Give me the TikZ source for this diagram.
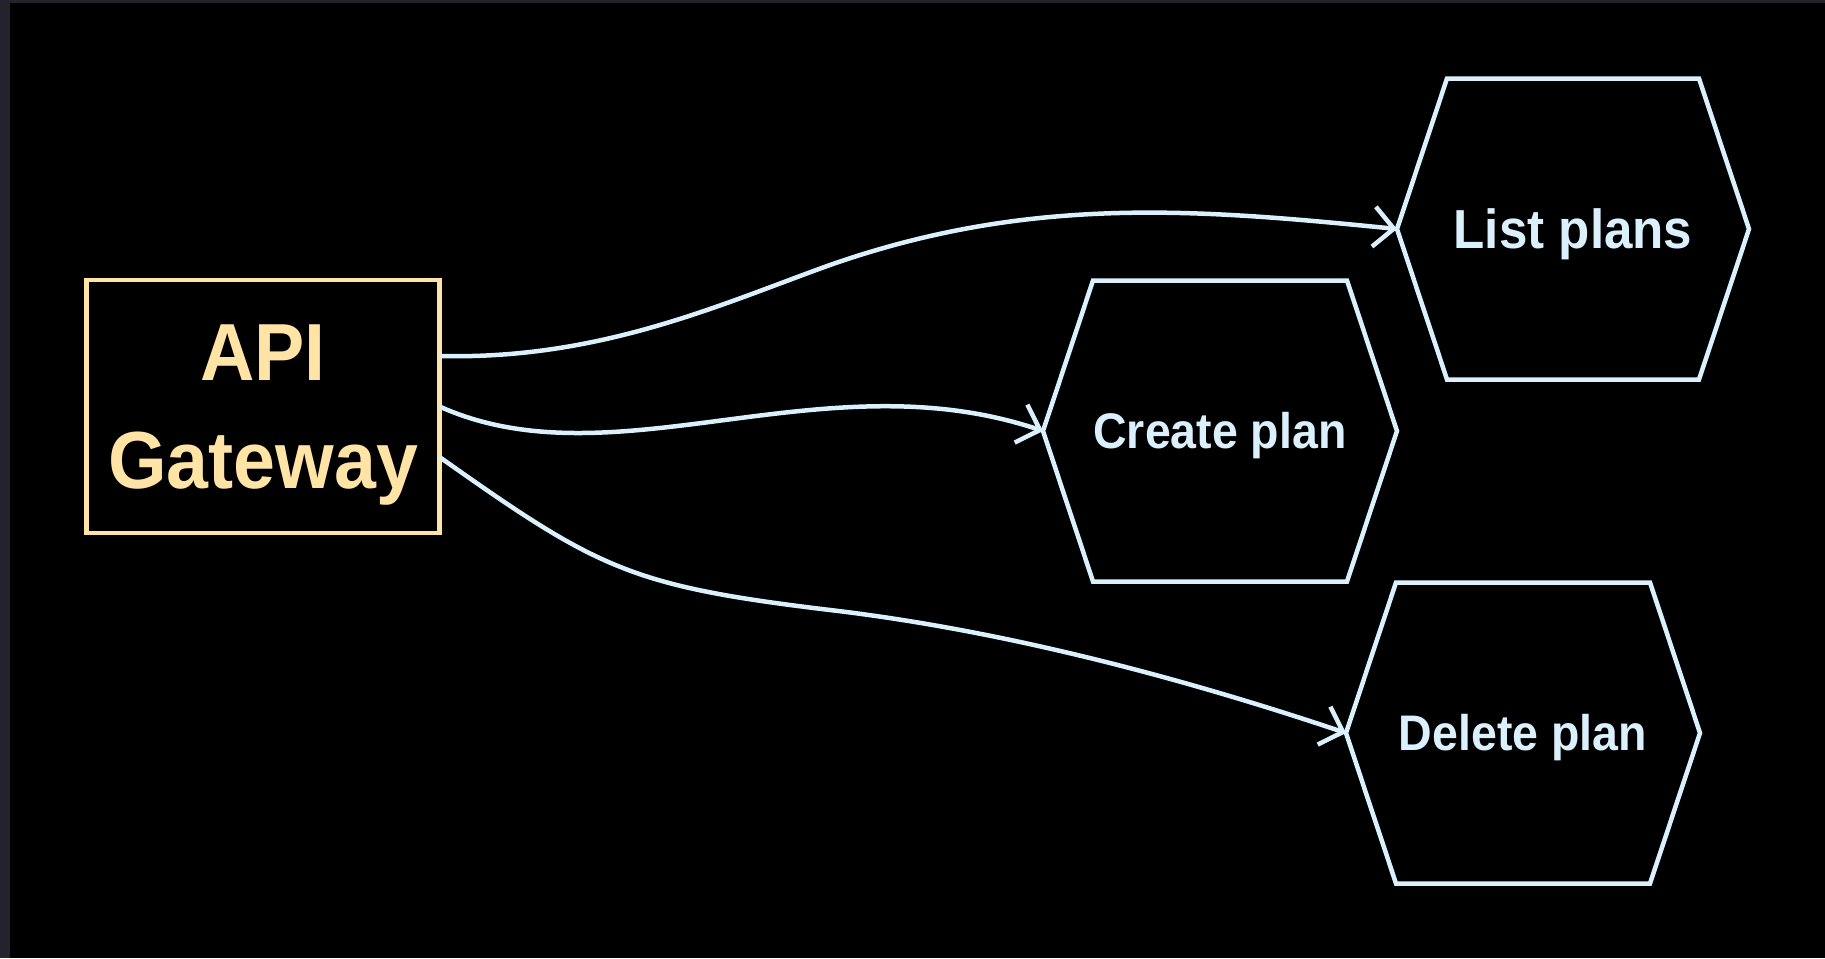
\documentclass[tikz,border=0pt]{standalone}
\usepackage{fontspec}
\setmainfont{Liberation Sans}
\newfontfamily\labelfont[FakeStretch=0.93]{Liberation Sans}
\usetikzlibrary{arrows.meta}

\definecolor{framegrey}{HTML}{24232D}
\definecolor{gatewaytan}{RGB}{255,228,166}
\definecolor{servicefrost}{RGB}{218,240,252}

\begin{document}
\begin{tikzpicture}[x=1pt,y=-1pt,
  gatewaybox/.style={draw=gatewaytan, line width=4.5pt, text=gatewaytan,
    minimum width=353pt, minimum height=253pt, inner sep=0pt, outer sep=0pt,
    align=center, text depth=0pt,
    font=\labelfont\bfseries\fontsize{81}{108}\selectfont},
  servicehex/.style={minimum width=354pt, minimum height=301pt,
    inner sep=0pt, outer sep=0pt, text=servicefrost, text depth=0pt},
  hexline/.style={draw=servicefrost, line width=4.5pt},
  callarrow/.style={draw=servicefrost, line width=4.5pt,
    -{Straight Barb[length=20pt,width=40pt]}},
]
% canvas with its thin frame strip
\fill[framegrey] (0,0) rectangle (1825,958);
\fill[black] (10,3) rectangle (1825,958);
\useasboundingbox (0,0) rectangle (1825,958);

% gateway and services
\node[gatewaybox] (gateway) at (263,406.5) {API\\Gateway};
\node[servicehex, minimum width=352pt, text height=39.4pt,
  font=\labelfont\bfseries\fontsize{55}{60}\selectfont] (list) at (1573,229) {List plans};
\node[servicehex, text height=35.8pt,
  font=\labelfont\bfseries\fontsize{50}{56}\selectfont] (create) at (1220,431) {Create plan};
\node[servicehex, text height=35.8pt,
  font=\labelfont\bfseries\fontsize{50}{56}\selectfont] (delete) at (1523,733) {Delete plan};

% hexagon outlines around the service nodes
\foreach \n in {list,create,delete}
  \draw[hexline] (\n.west) -- ([xshift=50pt]\n.north west)
    -- ([xshift=-50pt]\n.north east) -- (\n.east)
    -- ([xshift=-50pt]\n.south east) -- ([xshift=50pt]\n.south west) -- cycle;

% calls from the gateway
\draw[callarrow] ([yshift=50.5pt]gateway.east)
  .. controls (600,360) and (720,304.5) .. (830,265)
  .. controls (1030,195) and (1197,209) .. (list.west);
\draw[callarrow] (gateway.east)
  .. controls (614,485) and (822,357) .. (create.west);
\draw[callarrow] ([yshift=-50.5pt]gateway.east)
  .. controls (598,569) and (630,586) .. (830,610)
  .. controls (1000,630) and (1176,676) .. (delete.west);
\end{tikzpicture}
\end{document}
